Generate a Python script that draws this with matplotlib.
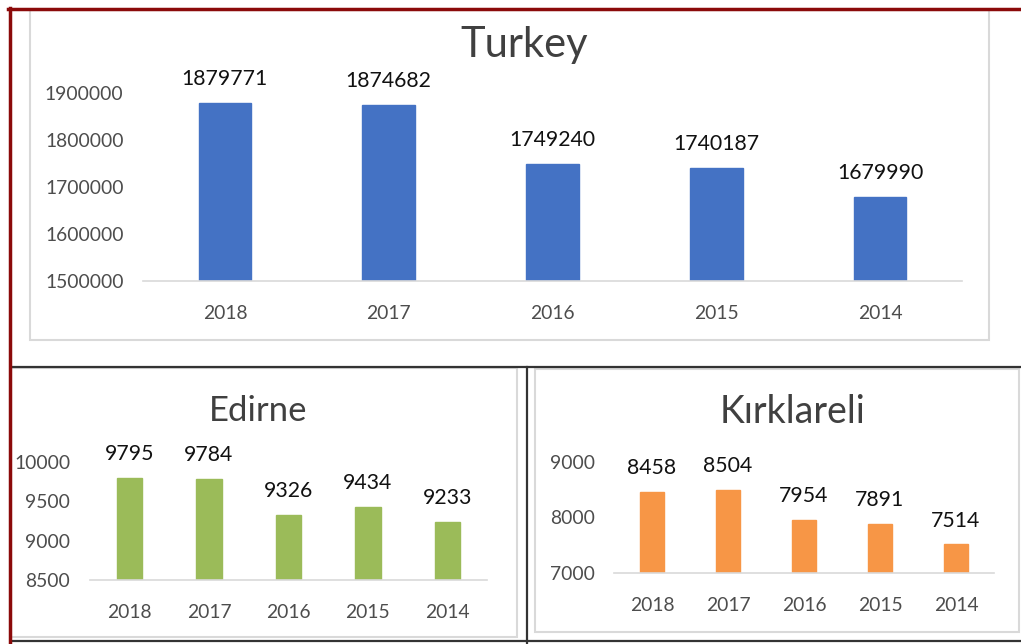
import matplotlib
matplotlib.use("Agg")
import matplotlib.pyplot as plt
from matplotlib.patches import Rectangle
from matplotlib.lines import Line2D

plt.rcParams['font.family'] = ['Lato', 'DejaVu Sans']

years = ['2018', '2017', '2016', '2015', '2014']

turkey = [1879771, 1874682, 1749240, 1740187, 1679990]
edirne = [9795, 9784, 9326, 9434, 9233]
kirklareli = [8458, 8504, 7954, 7891, 7514]

turkey_ticks = [1500000, 1600000, 1700000, 1800000, 1900000]
edirne_ticks = [8500, 9000, 9500, 10000]
kirk_ticks = [7000, 8000, 9000]

W, H = 1021, 644
fig = plt.figure(figsize=(W / 100, H / 100), dpi=100)


def box(l, t, r, b):
    # pixel box -> figure fraction
    return [l / W, 1 - b / H, (r - l) / W, (b - t) / H]


def fx(x):
    return x / W


def fy(y):
    return 1 - y / H


def bar_panel(rect, values, ticks, color, title, title_xy, title_size):
    ax = fig.add_axes(rect)
    xs = range(len(values))
    ax.bar(xs, values, width=0.32, color=color, edgecolor=color, zorder=2)
    ax.set_xlim(-0.5, len(values) - 0.5)
    ax.set_ylim(ticks[0], ticks[-1])
    ax.set_xticks(list(xs))
    ax.set_xticklabels(years)
    ax.set_yticks(ticks)
    ax.set_yticklabels([str(t) for t in ticks])
    for s in ['top', 'right', 'left']:
        ax.spines[s].set_visible(False)
    ax.spines['bottom'].set_color('#d9d9d9')
    ax.spines['bottom'].set_linewidth(1.2)
    ax.tick_params(axis='both', length=0, labelsize=13.9, colors='#4d4d4d')
    ax.tick_params(axis='x', pad=17)
    ax.tick_params(axis='y', pad=14)
    ax.patch.set_alpha(0)
    for i, v in enumerate(values):
        ax.annotate(str(v), (i, v), xytext=(0, 10), textcoords='offset points',
                    ha='center', va='bottom', fontsize=15.3, color='#111111',
                    annotation_clip=False)
    fig.text(fx(title_xy[0]), fy(title_xy[1]), title, ha='center', va='center',
             fontsize=title_size, color='#404040')
    return ax


# frames
fig.add_artist(Rectangle((fx(30), fy(340)), fx(989) - fx(30), fy(10) - fy(340),
                         transform=fig.transFigure, fill=False,
                         edgecolor='#d9d9d9', lw=1.5))
fig.add_artist(Rectangle((fx(11), fy(637)), fx(517) - fx(11), fy(368) - fy(637),
                         transform=fig.transFigure, fill=False,
                         edgecolor='#d9d9d9', lw=1.5))
fig.add_artist(Rectangle((fx(535), fy(632)), fx(1019) - fx(535), fy(369) - fy(632),
                         transform=fig.transFigure, fill=False,
                         edgecolor='#d9d9d9', lw=1.5))
fig.add_artist(Line2D([fx(11), fx(1021)], [fy(367), fy(367)], color='#333333', lw=1.6))
fig.add_artist(Line2D([fx(11), fx(1021)], [fy(640.5), fy(640.5)], color='#333333', lw=1.6))
fig.add_artist(Line2D([fx(526.5), fx(526.5)], [fy(367), fy(644)], color='#333333', lw=1.6))
fig.add_artist(Line2D([fx(8), fx(1021)], [fy(8.5), fy(8.5)], color='#8b0a0a', lw=2.5))
fig.add_artist(Line2D([fx(9.5), fx(9.5)], [fy(7.5), fy(644)], color='#8b0a0a', lw=2.5))

bar_panel(box(143, 93.4, 962, 281), turkey, turkey_ticks, '#4472c4',
          'Turkey', (524, 45), 30)
bar_panel(box(89.75, 462, 487, 580), edirne, edirne_ticks, '#9bbb59',
          'Edirne', (258, 411), 25)
bar_panel(box(614, 462, 994, 573), kirklareli, kirk_ticks, '#f79646',
          'Kırklareli', (792, 412), 27)

fig.savefig('out.png', dpi=100)
